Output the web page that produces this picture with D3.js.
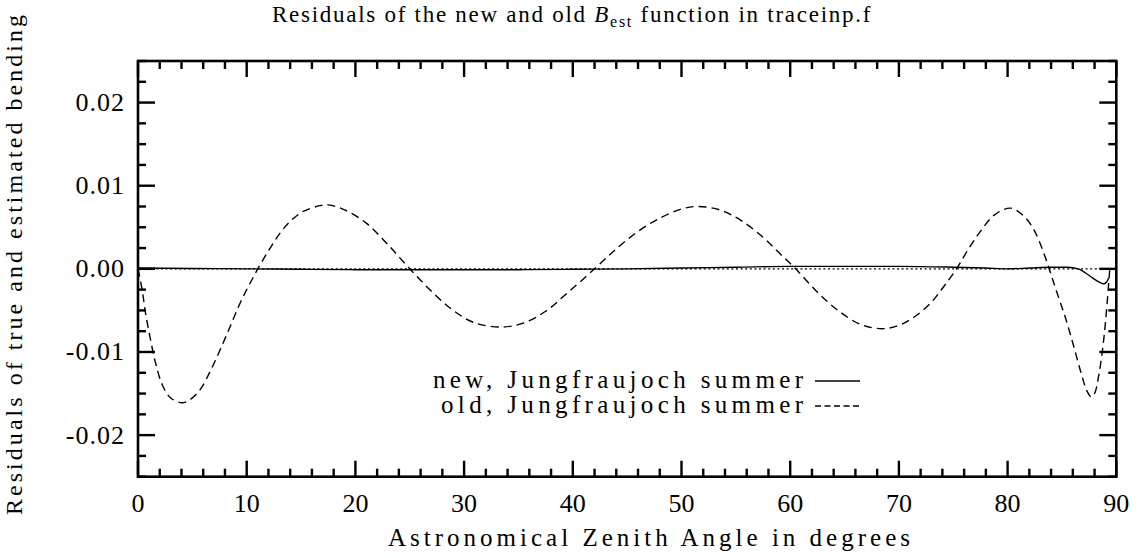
<!DOCTYPE html>
<html><head><meta charset="utf-8">
<script src="https://cdn.jsdelivr.net/npm/d3@7"></script>
<style>
html,body{margin:0;padding:0;background:#fff;}
</style></head>
<body><svg id="c" width="1138" height="558"></svg>
<script>
// ---- data ----
const oldAngle = [0, 0.38, 0.69, 1.15, 1.61, 2.22, 2.98, 4.05, 4.82, 5.73, 6.65, 7.57, 8.49, 9.4, 10.32, 11.24, 12.16, 13.07, 13.99, 15.2, 16.74, 17.5, 19, 21, 23, 25, 27, 29, 31, 33.5, 35.5, 37.5, 39.5, 42, 44, 46, 48, 50, 51.5, 53.5, 55.5, 57.5, 59, 60.5, 62.5, 64.5, 66.5, 68.5, 70, 71.5, 73, 74.2, 75.3, 76.5, 77.5, 78.8, 80.3, 81.6, 82.5, 83.3, 83.9, 84.5, 85.3, 86.1, 86.8, 87.3, 87.7, 88.0, 88.4, 88.8, 89.1, 89.4];
const oldResid = [0, -0.0025, -0.0053, -0.0085, -0.0113, -0.0139, -0.0155, -0.0161, -0.0157, -0.0145, -0.0123, -0.0097, -0.0069, -0.0041, -0.0017, 0.0005, 0.0025, 0.0043, 0.0057, 0.0069, 0.0076, 0.0077, 0.0071, 0.0055, 0.0029, 0, -0.0027, -0.0050, -0.0065, -0.0070, -0.0065, -0.0051, -0.0029, 0, 0.0024, 0.0045, 0.0061, 0.0072, 0.0075, 0.0071, 0.0058, 0.0038, 0.0019, 0, -0.0028, -0.0051, -0.0067, -0.0072, -0.0068, -0.0057, -0.0040, -0.0020, 0, 0.0026, 0.0045, 0.0065, 0.0073, 0.0062, 0.0045, 0.0020, -0.0003, -0.0027, -0.0058, -0.0094, -0.0127, -0.0147, -0.0154, -0.0150, -0.0127, -0.0090, -0.0050, 0];
const newAngle = [0, 5, 10, 15, 20, 25, 30, 35, 40, 45, 50, 55, 60, 65, 70, 75, 78, 80, 82, 84, 85.5, 86.5, 87.5, 88.3, 88.8, 89.1, 89.3];
const newResid = [0.0001, 0.00005, 0, -0.00005, -0.0001, -0.0001, -0.0001, -0.0001, -0.00005, 0, 0.0001, 0.0002, 0.0003, 0.0003, 0.0003, 0.0002, 0.0001, 0, 0.0001, 0.0002, 0.0002, 0, -0.0008, -0.0015, -0.0018, -0.0016, -0.0011];
const xMajorTicks = [0, 10, 20, 30, 40, 50, 60, 70, 80, 90];
const yMajorTicks = [-0.02, -0.01, 0.00, 0.01, 0.02];
const yTickLabels = ["-0.02", "-0.01", "0.00", "0.01", "0.02"];
const legendLabels = ["new, Jungfraujoch summer", "old, Jungfraujoch summer"];
const titleParts = ["Residuals of the new and old ", "B", "est", " function in traceinp.f"];
const xTitle = "Astronomical Zenith Angle in degrees";
const yTitle = "Residuals of true and estimated bending";

// ---- layout ----
const FONT = '"Liberation Serif"';
const L = 138, R = 1116.3, T = 61, B = 476.7;
const svg = d3.select("#c");
const x = d3.scaleLinear().domain([0, 90]).range([L, R]);
const y = d3.scaleLinear().domain([-0.025, 0.025]).range([B, T]);
function txt(sel) { return sel.append("text").style("font-family", FONT).attr("fill", "#000"); }

const xMinor = d3.range(0, 90.001, 2);
const yMinor = d3.range(-0.025, 0.02501, 0.0025);
const g = svg.append("g");

// zero dotted line
g.append("line").attr("x1", x(0)).attr("x2", x(90)).attr("y1", y(0)).attr("y2", y(0))
 .attr("stroke", "#000").attr("stroke-width", 1.3).attr("stroke-dasharray", "2,2.6");

// curves
g.append("path").datum(newAngle.map((a, i) => [a, newResid[i]]))
 .attr("d", d3.line().x(d => x(d[0])).y(d => y(d[1])).curve(d3.curveMonotoneX))
 .attr("fill", "none").attr("stroke", "#000").attr("stroke-width", 1.4);
g.append("path").datum(oldAngle.map((a, i) => [a, oldResid[i]]))
 .attr("d", d3.line().x(d => x(d[0])).y(d => y(d[1])).curve(d3.curveCatmullRom.alpha(0.5)))
 .attr("fill", "none").attr("stroke", "#000").attr("stroke-width", 1.4).attr("stroke-dasharray", "8,5");

// ticks
const tk = svg.append("g").attr("stroke", "#000").attr("stroke-width", 2.4);
function isMajorX(v) { return Math.abs(v / 10 - Math.round(v / 10)) < 1e-6; }
function isMajorY(v) { return Math.abs(v / 0.01 - Math.round(v / 0.01)) < 1e-6; }
xMinor.forEach(v => {
  const len = isMajorX(v) ? 16 : 8;
  tk.append("line").attr("x1", x(v)).attr("x2", x(v)).attr("y1", B).attr("y2", B - len);
  tk.append("line").attr("x1", x(v)).attr("x2", x(v)).attr("y1", T).attr("y2", T + len);
});
yMinor.forEach(v => {
  const len = isMajorY(v) ? 17 : 8;
  tk.append("line").attr("y1", y(v)).attr("y2", y(v)).attr("x1", L).attr("x2", L + len);
  tk.append("line").attr("y1", y(v)).attr("y2", y(v)).attr("x1", R).attr("x2", R - len);
});
// frame
svg.append("rect").attr("x", L).attr("y", T).attr("width", R - L).attr("height", B - T)
 .attr("fill", "none").attr("stroke", "#000").attr("stroke-width", 2.6);

// tick labels
xMajorTicks.forEach(v => {
  txt(svg).attr("x", x(v)).attr("y", 512).attr("text-anchor", "middle")
   .attr("font-size", 26).text(v);
});
yMajorTicks.forEach((v, i) => {
  txt(svg).attr("x", 125).attr("y", y(v) + 8.5).attr("text-anchor", "end")
   .attr("font-size", 26).attr("letter-spacing", 1).text(yTickLabels[i]);
});

// axis titles
txt(svg).attr("x", 388).attr("y", 546).attr("font-size", 25)
 .attr("textLength", 522).attr("lengthAdjust", "spacing").text(xTitle);
txt(svg).attr("transform", "translate(22,515) rotate(-90)").attr("font-size", 24)
 .attr("textLength", 500).attr("lengthAdjust", "spacing").text(yTitle);

// title
const tt = txt(svg).attr("x", 272).attr("y", 22).attr("font-size", 23);
tt.append("tspan").text(titleParts[0]);
tt.append("tspan").attr("font-style", "italic").text(titleParts[1]);
tt.append("tspan").attr("font-size", 16).attr("dy", 5).text(titleParts[2]);
tt.append("tspan").attr("dy", -5).text(titleParts[3]);
const nat = tt.node().getComputedTextLength();
const nch = titleParts.join("").length;
tt.attr("letter-spacing", ((600 - nat) / nch).toFixed(2));

// legend
const legY = [381, 406];
legendLabels.forEach((lab, i) => {
  txt(svg).attr("x", 433 + (i === 1 ? 8 : 0)).attr("y", legY[i] + 6.5).attr("font-size", 25)
   .attr("textLength", 370 - (i === 1 ? 8 : 0)).attr("lengthAdjust", "spacing").text(lab);
  svg.append("line").attr("x1", 815).attr("x2", 860).attr("y1", legY[i]).attr("y2", legY[i])
   .attr("stroke", "#000").attr("stroke-width", 1.4)
   .attr("stroke-dasharray", i === 1 ? "6,3.5" : null);
});
</script></body></html>
